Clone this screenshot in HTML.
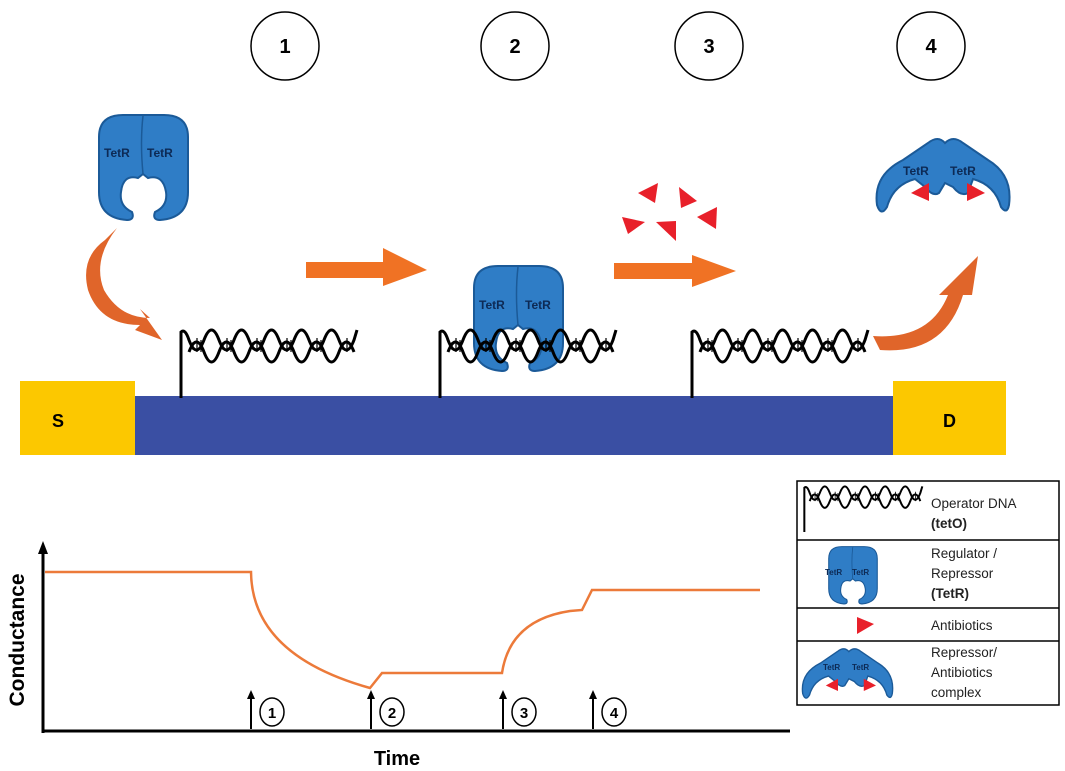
<!DOCTYPE html>
<html><head><meta charset="utf-8"><style>
html,body{margin:0;padding:0;background:#fff;}
svg{display:block;font-family:"Liberation Sans",sans-serif;}
</style></head><body>
<svg width="1065" height="771" viewBox="0 0 1065 771" xmlns="http://www.w3.org/2000/svg">
<defs>
<symbol id="tetr" viewBox="0 0 95 110">
<path d="M3,25 Q3,3 27,3 L68,3 Q92,3 92,25 L92,80 Q92,106 64,108 Q56,108 59,100 Q72,94 70,80 Q67,62 52,66 L47,62 L42,66 Q27,62 25,80 Q23,94 36,100 Q39,108 31,108 Q3,106 3,80 Z" fill="#2f7dc6" stroke="#1b5a98" stroke-width="2"/>
<path d="M47,4 Q44,30 47,62" fill="none" stroke="#1b5a98" stroke-width="1.5"/>
</symbol>
<symbol id="cplx" viewBox="0 0 140 82">
<path d="M4,70 Q0,40 30,25 L55,8 Q65,0 72,8 Q80,0 90,8 L115,25 Q140,40 136,70 Q134,80 128,72 Q122,50 100,44 L95,58 Q88,62 80,52 L72,48 L66,58 Q60,62 52,52 L42,44 Q20,50 14,72 Q8,82 4,70 Z" fill="#2f7dc6" stroke="#1b5a98" stroke-width="2"/>
<polygon points="38,58 56,48 56,66" fill="#e8202a"/>
<polygon points="112,58 94,48 94,66" fill="#e8202a"/>
</symbol>
<symbol id="dna" viewBox="0 0 182 70">
<path d="M2,70 L2,4 Q6,0 10,12 q7.5,20 15,0 t15,0 t15,0 t15,0 t15,0 t15,0 t15,0 t15,0 t15,0 t15,0 t15,0 L178,2" fill="none" stroke="#000" stroke-width="3"/>
<path d="M10,12 q7.5,-20 15,0 t15,0 t15,0 t15,0 t15,0 t15,0 t15,0 t15,0 t15,0 t15,0 t15,0" fill="none" stroke="#000" stroke-width="3" transform="translate(0,12)"/>
<path d="M14,14 v8 M18,10 v14 M22,12 v12 M44,14 v8 M48,10 v14 M52,12 v12 M74,14 v8 M78,10 v14 M82,12 v12 M104,14 v8 M108,10 v14 M112,12 v12 M134,14 v8 M138,10 v14 M142,12 v12 M164,14 v8 M168,10 v14" stroke="#000" stroke-width="1.2"/>
</symbol>
</defs>

<g fill="none" stroke="#000" stroke-width="1.5">
<ellipse cx="285" cy="46" rx="34" ry="34"/>
<ellipse cx="515" cy="46" rx="34" ry="34"/>
<ellipse cx="709" cy="46" rx="34" ry="34"/>
<ellipse cx="931" cy="46" rx="34" ry="34"/>
</g>
<g font-size="20" font-weight="bold" text-anchor="middle">
<text x="285" y="53">1</text><text x="515" y="53">2</text><text x="709" y="53">3</text><text x="931" y="53">4</text>
</g>

<rect x="135" y="396" width="758" height="59" fill="#3a4fa3"/>
<rect x="20" y="381" width="115" height="74" fill="#fcc800"/>
<rect x="893" y="381" width="113" height="74" fill="#fcc800"/>
<text x="52" y="427" font-size="18" font-weight="bold">S</text>
<text x="943" y="427" font-size="18" font-weight="bold">D</text>

<use href="#tetr" x="96" y="112" width="95" height="110"/>
<text x="104" y="157" font-size="12" font-weight="bold" fill="#0d2a55">TetR</text>
<text x="147" y="157" font-size="12" font-weight="bold" fill="#0d2a55">TetR</text>

<use href="#tetr" x="471" y="263" width="95" height="110"/>
<text x="479" y="309" font-size="12" font-weight="bold" fill="#0d2a55">TetR</text>
<text x="525" y="309" font-size="12" font-weight="bold" fill="#0d2a55">TetR</text>

<use href="#dna" x="179" y="328" width="182" height="70"/>
<use href="#dna" x="438" y="328" width="182" height="70"/>
<use href="#dna" x="690" y="328" width="182" height="70"/>

<use href="#cplx" x="873" y="135" width="140" height="82"/>
<text x="903" y="175" font-size="12" font-weight="bold" fill="#0d2a55">TetR</text>
<text x="950" y="175" font-size="12" font-weight="bold" fill="#0d2a55">TetR</text>

<polygon points="306,262 383,262 383,248 427,270 383,286 383,278 306,278" fill="#f07224"/>
<polygon points="614,263 692,263 692,255 736,271 692,287 692,279 614,279" fill="#f07224"/>

<path d="M117,228 Q92,260 104,290 Q120,318 150,318 L140,309 L162,340 L135,330 L140,325 Q100,325 88,290 Q80,258 105,240 Z" fill="#e0652a"/>
<path d="M873,336 Q930,340 948,295 L939,295 L978,256 L972,295 L963,295 Q945,355 880,350 Z" fill="#e0652a"/>

<g fill="#e8202a">
<polygon points="658,183 638,193 655,203"/>
<polygon points="679,187 697,201 681,208"/>
<polygon points="622,217 645,222 628,234"/>
<polygon points="656,222 676,221 676,241"/>
<polygon points="717,207 697,217 716,229"/>
</g>

<line x1="43" y1="733" x2="43" y2="552" stroke="#000" stroke-width="3"/>
<polygon points="43,541 38,554 48,554"/>
<line x1="42" y1="731" x2="790" y2="731" stroke="#000" stroke-width="3"/>
<path d="M45,572 L251,572 Q252,655 370,688 L382,673 L502,673 Q510,620 570,611 L582,610 L592,590 L760,590" fill="none" stroke="#ec7a3a" stroke-width="2.5"/>
<text transform="translate(24,640) rotate(-90)" font-size="21" font-weight="bold" text-anchor="middle">Conductance</text>
<text x="397" y="765" font-size="20" font-weight="bold" text-anchor="middle">Time</text>
<g stroke="#000" stroke-width="2">
<line x1="251" y1="729" x2="251" y2="696"/><line x1="371" y1="729" x2="371" y2="696"/>
<line x1="503" y1="729" x2="503" y2="696"/><line x1="593" y1="729" x2="593" y2="696"/>
</g>
<g>
<polygon points="251,690 247,699 255,699"/><polygon points="371,690 367,699 375,699"/>
<polygon points="503,690 499,699 507,699"/><polygon points="593,690 589,699 597,699"/>
</g>
<g fill="none" stroke="#000" stroke-width="1.5">
<ellipse cx="272" cy="712" rx="12" ry="14"/><ellipse cx="392" cy="712" rx="12" ry="14"/>
<ellipse cx="524" cy="712" rx="12" ry="14"/><ellipse cx="614" cy="712" rx="12" ry="14"/>
</g>
<g font-size="15" font-weight="bold" text-anchor="middle">
<text x="272" y="718">1</text><text x="392" y="718">2</text><text x="524" y="718">3</text><text x="614" y="718">4</text>
</g>

<rect x="797" y="481" width="262" height="224" fill="none" stroke="#000" stroke-width="1.5"/>
<line x1="797" y1="540" x2="1059" y2="540" stroke="#000" stroke-width="1.5"/>
<line x1="797" y1="608" x2="1059" y2="608" stroke="#000" stroke-width="1.5"/>
<line x1="797" y1="641" x2="1059" y2="641" stroke="#000" stroke-width="1.5"/>
<use href="#dna" x="803" y="485" width="122" height="47" preserveAspectRatio="none"/>
<use href="#tetr" x="820" y="545" width="66" height="60" preserveAspectRatio="none"/>
<text x="825" y="575" font-size="8" font-weight="bold" fill="#0d2a55">TetR</text>
<text x="852" y="575" font-size="8" font-weight="bold" fill="#0d2a55">TetR</text>
<polygon points="857,617 874,624 857,634" fill="#e8202a"/>
<use href="#cplx" x="800" y="645" width="95" height="58" preserveAspectRatio="none"/>
<text x="823" y="670" font-size="8" font-weight="bold" fill="#0d2a55">TetR</text>
<text x="852" y="670" font-size="8" font-weight="bold" fill="#0d2a55">TetR</text>
<g font-size="13.5" fill="#222">
<text x="931" y="508">Operator DNA</text>
<text x="931" y="528" font-weight="bold">(tetO)</text>
<text x="931" y="558">Regulator /</text>
<text x="931" y="578">Repressor</text>
<text x="931" y="598" font-weight="bold">(TetR)</text>
<text x="931" y="630">Antibiotics</text>
<text x="931" y="657">Repressor/</text>
<text x="931" y="677">Antibiotics</text>
<text x="931" y="697">complex</text>
</g>
</svg>
</body></html>
